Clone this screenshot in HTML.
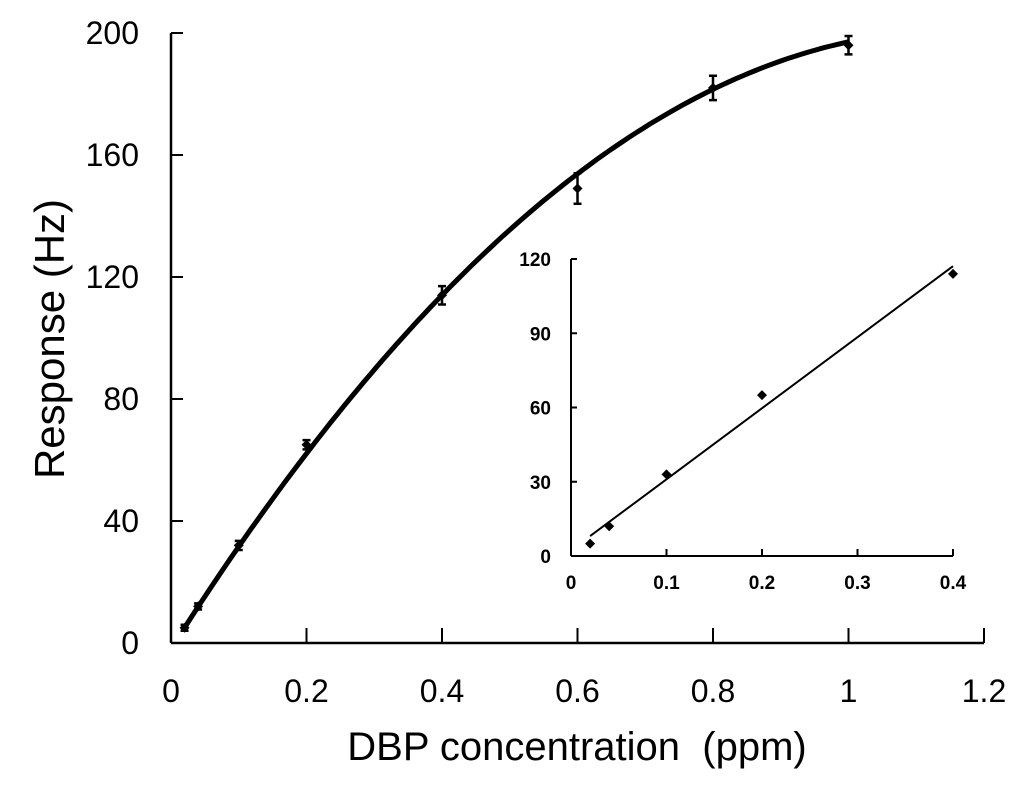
<!DOCTYPE html>
<html><head><meta charset="utf-8"><style>
html,body{margin:0;padding:0;background:#fff;}
svg text{font-family:"Liberation Sans",Arial,sans-serif;fill:#000;white-space:pre;}
</style></head><body>
<svg id="chart" width="1024" height="785" viewBox="0 0 1024 785" xmlns="http://www.w3.org/2000/svg"></svg>
<script>
// Main chart data
const xVals = [0.02, 0.04, 0.1, 0.2, 0.4, 0.6, 0.8, 1.0];
const yVals = [5, 12, 32, 65, 114, 149, 182, 196];
const yErr = [1, 1, 1.5, 1.5, 3, 5, 4, 3];
const fitCoef = [-1.9, 350.4, -151.4]; // c + a x + b x^2
const xTicks = [0, 0.2, 0.4, 0.6, 0.8, 1, 1.2];
const xTickLabels = ["0", "0.2", "0.4", "0.6", "0.8", "1", "1.2"];
const yTicks = [0, 40, 80, 120, 160, 200];
const yTickLabels = ["0", "40", "80", "120", "160", "200"];
// Inset data
const insetX = [0.02, 0.04, 0.1, 0.2, 0.4];
const insetY = [5, 12, 33, 65, 114];
const insetFit = [2.3, 287];
const insetXTicks = [0, 0.1, 0.2, 0.3, 0.4];
const insetXLabels = ["0", "0.1", "0.2", "0.3", "0.4"];
const insetYTicks = [0, 30, 60, 90, 120];
const insetYLabels = ["0", "30", "60", "90", "120"];

const svg = document.getElementById('chart');
const NS = 'http://www.w3.org/2000/svg';
function mk(tag, attrs, parent) {
  const e = document.createElementNS(NS, tag);
  for (const k in attrs) e.setAttribute(k, attrs[k]);
  (parent || svg).appendChild(e);
  return e;
}
const X0 = 171, X1 = 984, Y0 = 643, Y1 = 33;
const sx = v => X0 + (v / 1.2) * (X1 - X0);
const sy = v => Y0 - (v / 200) * (Y0 - Y1);

let e = mk('line', {x1: X0, y1: Y0, x2: X1, y2: Y0, stroke: '#000', 'stroke-width': 2.5});


e = mk('line', {x1: X0, y1: Y0, x2: X0, y2: Y1, stroke: '#000', 'stroke-width': 2.5});



xTicks.forEach((t, i) => {
  if (i > 0) {
    const tk = mk('line', {x1: sx(t), y1: Y0, x2: sx(t), y2: Y0 - 15, stroke: '#000', 'stroke-width': 2});
    
    
  }
  const tl = mk('text', {x: sx(t), y: 702, 'font-size': 32, 'text-anchor': 'middle'});
  tl.textContent = xTickLabels[i];
  
  
});
yTicks.forEach((t, i) => {
  const tk = mk('line', {x1: X0, y1: sy(t), x2: X0 + 12, y2: sy(t), stroke: '#000', 'stroke-width': 2});
  
  
  const tl = mk('text', {x: 139, y: sy(t) + 11, 'font-size': 32, 'text-anchor': 'end'});
  tl.textContent = yTickLabels[i];
  
  
});
e = mk('text', {x: 577, y: 760, 'font-size': 40, 'text-anchor': 'middle'});
e.textContent = 'DBP concentration  (ppm)';


e = mk('text', {x: 0, y: 0, 'font-size': 42, 'text-anchor': 'middle', transform: 'translate(64,339) rotate(-90)'});
e.textContent = 'Response (Hz)';



let d = '';
const xa = xVals[0], xb = xVals[xVals.length - 1];
for (let k = 0; k <= 100; k++) {
  const x = xa + (xb - xa) * k / 100;
  const y = fitCoef[0] + fitCoef[1] * x + fitCoef[2] * x * x;
  d += (k ? 'L' : 'M') + sx(x).toFixed(1) + ',' + sy(y).toFixed(1);
}
e = mk('path', {d: d, fill: 'none', stroke: '#000', 'stroke-width': 5});



xVals.forEach((x, i) => {
  const cx = sx(x), cy = sy(yVals[i]);
  const top = sy(yVals[i] + yErr[i]), bot = sy(yVals[i] - yErr[i]);
  const eb = mk('path', {d: `M${cx},${top}V${bot}M${cx-4},${top}H${cx+4}M${cx-4},${bot}H${cx+4}`, stroke: '#000', 'stroke-width': 2.5, fill: 'none'});
  
  
  const p = mk('path', {d: `M${cx},${cy-5}L${cx+5},${cy}L${cx},${cy+5}L${cx-5},${cy}Z`, fill: '#000'});
  
  
});

// inset
const IX0 = 571, IX1 = 953, IY0 = 556, IY1 = 259;
const isx = v => IX0 + (v / 0.4) * (IX1 - IX0);
const isy = v => IY0 - (v / 120) * (IY0 - IY1);
const g = mk('g', {});


e = mk('line', {x1: IX0, y1: IY0, x2: IX1, y2: IY0, stroke: '#000', 'stroke-width': 2}, g);


e = mk('line', {x1: IX0, y1: IY0, x2: IX0, y2: IY1, stroke: '#000', 'stroke-width': 2}, g);


insetXTicks.forEach((t, i) => {
  if (i > 0) {
    const tk = mk('line', {x1: isx(t), y1: IY0, x2: isx(t), y2: IY0 - 7, stroke: '#000', 'stroke-width': 2}, g);
    
    
  }
  const tl = mk('text', {x: isx(t), y: 589, 'font-size': 19, 'font-weight': 'bold', 'text-anchor': 'middle'}, g);
  tl.textContent = insetXLabels[i];
  
  
});
insetYTicks.forEach((t, i) => {
  const tk = mk('line', {x1: IX0, y1: isy(t), x2: IX0 + 6, y2: isy(t), stroke: '#000', 'stroke-width': 2}, g);
  
  
  const tl = mk('text', {x: 551, y: isy(t) + 7, 'font-size': 19, 'font-weight': 'bold', 'text-anchor': 'end'}, g);
  tl.textContent = insetYLabels[i];
  
  
});
const fx0 = insetX[0], fx1 = insetX[insetX.length - 1];
e = mk('line', {x1: isx(fx0), y1: isy(insetFit[0] + insetFit[1] * fx0), x2: isx(fx1), y2: isy(insetFit[0] + insetFit[1] * fx1), stroke: '#000', 'stroke-width': 2}, g);


insetX.forEach((x, i) => {
  const cx = isx(x), cy = isy(insetY[i]);
  const p = mk('path', {d: `M${cx},${cy-5}L${cx+5},${cy}L${cx},${cy+5}L${cx-5},${cy}Z`, fill: '#000'}, g);
  
  
});
</script>
</body></html>
